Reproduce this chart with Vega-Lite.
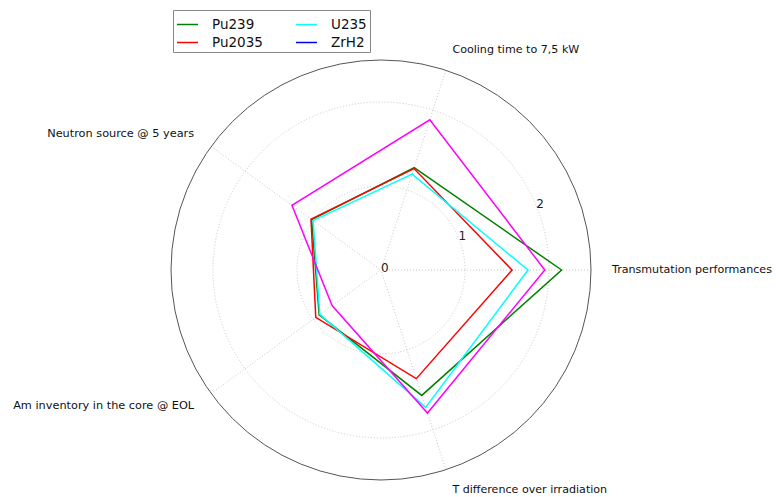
{
  "$schema": "https://vega.github.io/schema/vega-lite/v6.json",
  "autosize": {"type": "none"},
  "padding": {"left": 171, "top": 60, "right": 185, "bottom": 17},
  "width": 420,
  "height": 420,
  "background": "white",
  "config": {"view": {"stroke": null}, "font": "DejaVu Sans"},
  "datasets": {
    "axes": [
      {"axis": "Transmutation performances", "k": 0},
      {"axis": "Cooling time to 7,5 kW", "k": 1},
      {"axis": "Neutron source @ 5 years", "k": 2},
      {"axis": "Am inventory in the core @ EOL", "k": 3},
      {"axis": "T difference over irradiation", "k": 4}
    ],
    "scores": [
      {"series": "Pu239", "k": 0, "value": 2.15},
      {"series": "Pu239", "k": 1, "value": 1.28},
      {"series": "Pu239", "k": 2, "value": 1.02},
      {"series": "Pu239", "k": 3, "value": 0.91},
      {"series": "Pu239", "k": 4, "value": 1.57},
      {"series": "Pu2035", "k": 0, "value": 1.56},
      {"series": "Pu2035", "k": 1, "value": 1.27},
      {"series": "Pu2035", "k": 2, "value": 1.03},
      {"series": "Pu2035", "k": 3, "value": 0.96},
      {"series": "Pu2035", "k": 4, "value": 1.36},
      {"series": "U235", "k": 0, "value": 1.75},
      {"series": "U235", "k": 1, "value": 1.2},
      {"series": "U235", "k": 2, "value": 1.0},
      {"series": "U235", "k": 3, "value": 0.9},
      {"series": "U235", "k": 4, "value": 1.72},
      {"series": "ZrH2", "k": 0, "value": 1.95},
      {"series": "ZrH2", "k": 1, "value": 1.88},
      {"series": "ZrH2", "k": 2, "value": 1.31},
      {"series": "ZrH2", "k": 3, "value": 0.72},
      {"series": "ZrH2", "k": 4, "value": 1.79}
    ],
    "rings": [{"r": 1}, {"r": 2}],
    "outer": [{"r": 2.5}],
    "ticks": [{"t": 0}, {"t": 1}, {"t": 2}]
  },
  "layer": [
    {
      "data": {"name": "rings"},
      "mark": {"type": "point", "shape": "circle", "filled": false, "stroke": "#c8c8c8", "strokeWidth": 1, "strokeDash": [1, 2], "opacity": 1},
      "encoding": {
        "x": {"datum": 0, "type": "quantitative", "scale": {"domain": [-2.5, 2.5], "nice": false, "zero": false}, "axis": null},
        "y": {"datum": 0, "type": "quantitative", "scale": {"domain": [-2.5, 2.5], "nice": false, "zero": false}, "axis": null},
        "size": {"field": "r", "type": "quantitative", "scale": {"type": "pow", "exponent": 2, "domain": [0, 2.5], "range": [0, 176400]}, "legend": null}
      }
    },
    {
      "data": {"name": "axes"},
      "transform": [
        {"calculate": "2.5 * cos(datum.k * 2 * PI / 5)", "as": "ex"},
        {"calculate": "2.5 * sin(datum.k * 2 * PI / 5)", "as": "ey"}
      ],
      "mark": {"type": "rule", "stroke": "#c8c8c8", "strokeWidth": 1, "strokeDash": [1, 2]},
      "encoding": {
        "x": {"field": "ex", "type": "quantitative"},
        "y": {"field": "ey", "type": "quantitative"},
        "x2": {"datum": 0},
        "y2": {"datum": 0}
      }
    },
    {
      "data": {"name": "outer"},
      "mark": {"type": "point", "shape": "circle", "filled": false, "stroke": "#555555", "strokeWidth": 1, "opacity": 1},
      "encoding": {
        "x": {"datum": 0, "type": "quantitative"},
        "y": {"datum": 0, "type": "quantitative"},
        "size": {"field": "r", "type": "quantitative", "scale": {"type": "pow", "exponent": 2, "domain": [0, 2.5], "range": [0, 176400]}, "legend": null}
      }
    },
    {
      "data": {"name": "ticks"},
      "transform": [
        {"calculate": "datum.t * cos(PI / 8)", "as": "tx"},
        {"calculate": "datum.t * sin(PI / 8)", "as": "ty"}
      ],
      "mark": {"type": "text", "align": "left", "baseline": "middle", "dy": -2, "fontSize": 12, "color": "#222222"},
      "encoding": {
        "x": {"field": "tx", "type": "quantitative"},
        "y": {"field": "ty", "type": "quantitative"},
        "text": {"field": "t", "type": "quantitative", "format": "d"}
      }
    },
    {
      "data": {"name": "scores"},
      "transform": [
        {"calculate": "datum.value * cos(datum.k * 2 * PI / 5)", "as": "px"},
        {"calculate": "datum.value * sin(datum.k * 2 * PI / 5)", "as": "py"}
      ],
      "mark": {"type": "point", "opacity": 0, "size": 1},
      "encoding": {
        "x": {"field": "px", "type": "quantitative"},
        "y": {"field": "py", "type": "quantitative"},
        "color": {
          "field": "series",
          "type": "nominal",
          "scale": {"domain": ["Pu239", "Pu2035", "U235", "ZrH2"], "range": ["#008000", "#ff0000", "#00ffff", "#0000ff"]},
          "legend": {
            "title": null,
            "orient": "none",
            "legendX": 2,
            "legendY": -50,
            "columns": 2,
            "direction": "vertical",
            "columnPadding": 30,
            "rowPadding": -2,
            "padding": 3,
            "symbolType": "stroke",
            "symbolSize": 441,
            "symbolStrokeWidth": 1.5,
            "symbolOpacity": 1,
            "labelFontSize": 13.5,
            "labelColor": "#111111",
            "labelOffset": 13,
            "strokeColor": "#888888",
            "fillColor": "white"
          }
        }
      }
    },
    {
      "data": {"name": "scores"},
      "transform": [
        {"calculate": "datum.value * cos(datum.k * 2 * PI / 5)", "as": "px"},
        {"calculate": "datum.value * sin(datum.k * 2 * PI / 5)", "as": "py"}
      ],
      "mark": {"type": "line", "interpolate": "linear-closed", "strokeWidth": 1.5},
      "encoding": {
        "x": {"field": "px", "type": "quantitative"},
        "y": {"field": "py", "type": "quantitative"},
        "order": {"field": "k", "type": "quantitative"},
        "stroke": {
          "field": "series",
          "type": "nominal",
          "scale": {"domain": ["Pu239", "Pu2035", "U235", "ZrH2"], "range": ["#008000", "#ff0000", "#00ffff", "#ff00ff"]},
          "legend": null
        }
      }
    },
    {
      "data": {"name": "axes"},
      "transform": [
        {"filter": "datum.k === 0 || datum.k === 1 || datum.k === 4"},
        {"calculate": "2.75 * cos(datum.k * 2 * PI / 5)", "as": "lx"},
        {"calculate": "2.75 * sin(datum.k * 2 * PI / 5)", "as": "ly"}
      ],
      "mark": {"type": "text", "align": "left", "baseline": "middle", "fontSize": 11.1, "color": "#111111"},
      "encoding": {
        "x": {"field": "lx", "type": "quantitative"},
        "y": {"field": "ly", "type": "quantitative"},
        "text": {"field": "axis"}
      }
    },
    {
      "data": {"name": "axes"},
      "transform": [
        {"filter": "datum.k === 2 || datum.k === 3"},
        {"calculate": "2.75 * cos(datum.k * 2 * PI / 5)", "as": "lx"},
        {"calculate": "2.75 * sin(datum.k * 2 * PI / 5)", "as": "ly"}
      ],
      "mark": {"type": "text", "align": "right", "baseline": "middle", "fontSize": 11.3, "color": "#111111"},
      "encoding": {
        "x": {"field": "lx", "type": "quantitative"},
        "y": {"field": "ly", "type": "quantitative"},
        "text": {"field": "axis"}
      }
    }
  ],
  "resolve": {"scale": {"size": "independent", "color": "independent", "stroke": "independent"}}
}
